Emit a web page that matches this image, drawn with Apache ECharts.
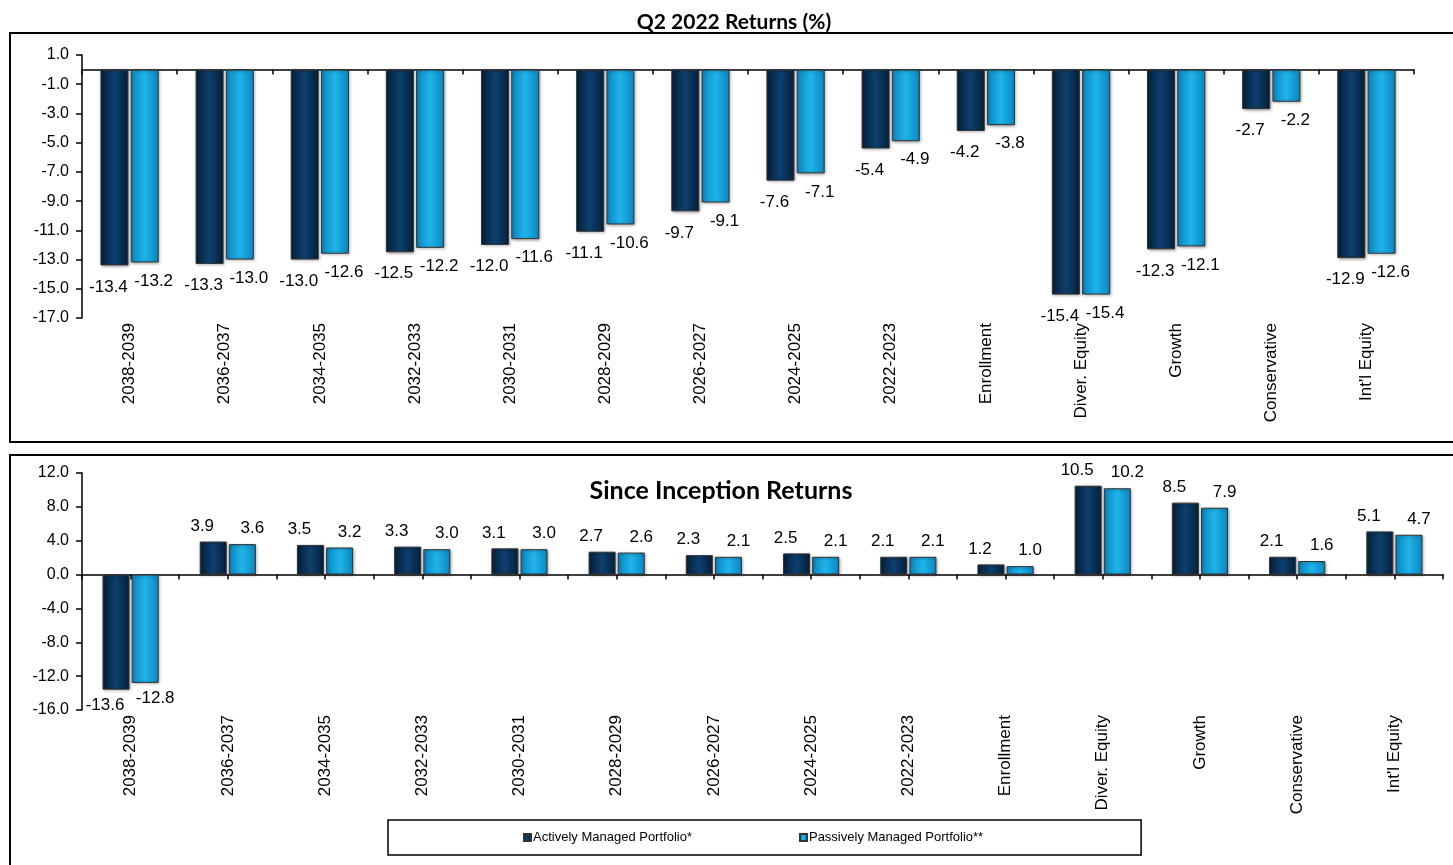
<!DOCTYPE html>
<html>
<head>
<meta charset="utf-8">
<title>Q2 2022 Returns</title>
<script src="https://cdn.jsdelivr.net/npm/echarts@6/dist/echarts.min.js"></script>
<style>
  html, body { margin: 0; padding: 0; background: #fff; }
  #chart { width: 1453px; height: 865px; }
</style>
</head>
<body>
<div id="chart"></div>
<script>
// Portfolio categories shared by both panels
const categories = ['2038-2039', '2036-2037', '2034-2035', '2032-2033', '2030-2031', '2028-2029',
  '2026-2027', '2024-2025', '2022-2023', 'Enrollment', 'Diver. Equity', 'Growth', 'Conservative', "Int'l Equity"];

const seriesNames = ['Actively Managed Portfolio*', 'Passively Managed Portfolio**'];

// Q2 2022 returns (%)
const q2Active  = [-13.4, -13.3, -13.0, -12.5, -12.0, -11.1, -9.7, -7.6, -5.4, -4.2, -15.4, -12.3, -2.7, -12.9];
const q2Passive = [-13.2, -13.0, -12.6, -12.2, -11.6, -10.6, -9.1, -7.1, -4.9, -3.8, -15.4, -12.1, -2.2, -12.6];

// Since inception returns (%)
const siActive  = [-13.6, 3.9, 3.5, 3.3, 3.1, 2.7, 2.3, 2.5, 2.1, 1.2, 10.5, 8.5, 2.1, 5.1];
const siPassive = [-12.8, 3.6, 3.2, 3.0, 3.0, 2.6, 2.1, 2.1, 2.1, 1.0, 10.2, 7.9, 1.6, 4.7];

// Value-axis tick labels
const q2Ticks = [1, -1, -3, -5, -7, -9, -11, -13, -15, -17];
const siTicks = [12, 8, 4, 0, -4, -8, -12, -16];

const FONT = "'Liberation Sans', Arial, sans-serif";
const TITLE_FONT = "Lato, 'Open Sans', sans-serif";

const activeFill = new echarts.graphic.LinearGradient(0, 0, 1, 0, [
  { offset: 0, color: '#051f38' },
  { offset: 0.5, color: '#0d406f' },
  { offset: 1, color: '#051f38' }
]);
const passiveFill = new echarts.graphic.LinearGradient(0, 0, 1, 0, [
  { offset: 0, color: '#0b86c0' },
  { offset: 0.5, color: '#1fb4ea' },
  { offset: 1, color: '#0b86c0' }
]);

function fmt(v) { return (Math.round(v * 10) / 10).toFixed(1); }

function valueAxis(grid, min, max, ticks) {
  return {
    type: 'value', gridIndex: grid, min: min, max: max,
    axisLine: { show: true, onZero: false, lineStyle: { color: '#000', width: 1.5 } },
    axisTick: { show: true, length: 6, customValues: ticks, lineStyle: { color: '#000', width: 1.5 } },
    axisLabel: { customValues: ticks, formatter: fmt, color: '#000', fontFamily: FONT, fontSize: 16, margin: 13 },
    splitLine: { show: false }
  };
}

function labelAxis(grid, margin) {
  return {
    type: 'category', gridIndex: grid, data: categories, position: 'bottom',
    axisLine: { show: false, onZero: false },
    axisTick: { show: false },
    axisLabel: { rotate: 90, margin: margin, interval: 0, color: '#000', fontFamily: FONT, fontSize: 17 }
  };
}

// Zero line with tick marks; step is the tick spacing in category widths
function zeroAxis(grid, yIndex, step) {
  return {
    type: 'value', gridIndex: grid, position: 'bottom',
    min: 0, max: categories.length, interval: step,
    axisLine: { show: true, onZero: true, onZeroAxisIndex: yIndex, lineStyle: { color: '#000', width: 1.5 } },
    axisTick: { show: true, length: 5, lineStyle: { color: '#000', width: 1.5 } },
    axisLabel: { show: false },
    splitLine: { show: false }
  };
}

function barSeries(name, data, fill, xIdx, yIdx, width, dx, dist) {
  return {
    name: name, type: 'bar', xAxisIndex: xIdx, yAxisIndex: yIdx,
    data: data, barWidth: width, barGap: '8%',
    itemStyle: {
      color: fill, borderColor: '#333', borderWidth: 1,
      shadowColor: 'rgba(0,0,0,0.35)', shadowBlur: 3, shadowOffsetX: 1, shadowOffsetY: 1
    },
    label: {
      show: true, position: 'outside', distance: dist, offset: [dx, 0],
      formatter: p => fmt(p.value), color: '#000', fontFamily: FONT, fontSize: 17
    },
    z: 3
  };
}

const chart = echarts.init(document.getElementById('chart'), null, { renderer: 'canvas' });

chart.setOption({
  animation: false,
  backgroundColor: '#fff',
  title: [
    { text: 'Q2 2022 Returns (%)', left: 729, top: 7, textAlign: 'center',
      textStyle: { fontFamily: TITLE_FONT, fontWeight: 'bold', fontSize: 21, color: '#000' } },
    { text: 'Since Inception Returns', left: 716, top: 473, textAlign: 'center',
      textStyle: { fontFamily: TITLE_FONT, fontWeight: 'bold', fontSize: 25, color: '#000' } }
  ],
  graphic: [
    { type: 'rect', shape: { x: 10, y: 33, width: 1450, height: 409 },
      style: { fill: 'none', stroke: '#000', lineWidth: 2 }, silent: true },
    { type: 'rect', shape: { x: 10, y: 455, width: 1450, height: 420 },
      style: { fill: 'none', stroke: '#000', lineWidth: 2 }, silent: true }
  ],
  legend: {
    data: seriesNames,
    left: 388, top: 820,
    padding: [11, 158, 11, 135],
    itemGap: 107, itemWidth: 7, itemHeight: 7,
    icon: 'rect',
    borderColor: '#000', borderWidth: 1.5,
    textStyle: { fontFamily: FONT, fontSize: 13, color: '#000', padding: [0, 0, 0, -3] }
  },
  grid: [
    { left: 82, top: 55, width: 1332, height: 263 },
    { left: 82, top: 473, width: 1361, height: 237 }
  ],
  xAxis: [
    labelAxis(0, 5),
    zeroAxis(0, 0, 1),
    labelAxis(1, 5),
    zeroAxis(1, 1, 0.5)
  ],
  yAxis: [
    valueAxis(0, -17, 1, q2Ticks),
    valueAxis(1, -16, 12, siTicks)
  ],
  series: [
    barSeries(seriesNames[0], q2Active, activeFill, 0, 0, 28, -6, 13),
    barSeries(seriesNames[1], q2Passive, passiveFill, 0, 0, 28, 9, 10),
    barSeries(seriesNames[0], siActive, activeFill, 2, 1, 27, -11, 7),
    barSeries(seriesNames[1], siPassive, passiveFill, 2, 1, 27, 10, 7)
  ]
});
</script>
</body>
</html>
